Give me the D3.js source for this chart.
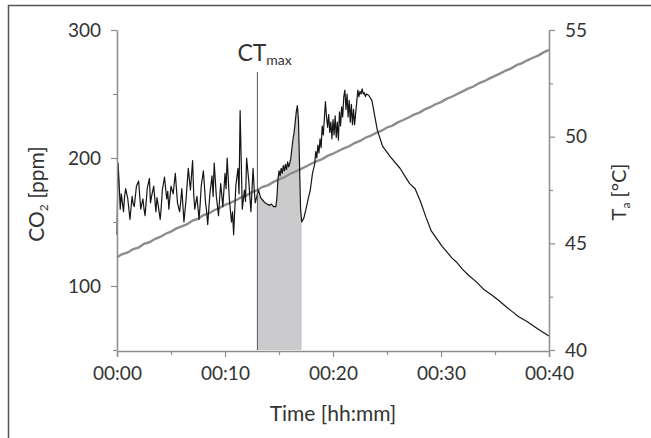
<!DOCTYPE html>
<html>
<head>
<meta charset="utf-8">
<script src="https://cdn.jsdelivr.net/npm/d3@7"></script>
<style>
  html, body { margin: 0; padding: 0; background: #fff; }
  svg { display: block; font-family: Lato, "DejaVu Sans", sans-serif; }
</style>
</head>
<body>
<svg id="chart" width="651" height="438"></svg>
<script>
// ---- Data (time in minutes) ----
const co2Time = [
  0.0,0.1,0.2,0.3,0.4,0.6,0.7,0.8,1.0,1.1,1.2,1.4,1.5,1.6,1.8,2.0,2.1,2.2,2.4,2.5,2.6,2.8,3.0,3.1,3.2,3.4,3.6,3.7,3.8,
  4.0,4.1,4.2,4.4,4.6,4.7,4.8,5.0,5.2,5.3,5.4,5.6,5.8,5.9,6.0,6.2,6.4,6.5,6.6,6.8,7.0,7.1,7.2,7.4,7.6,7.7,7.8,
  8.0,8.2,8.3,8.4,8.6,8.8,8.9,9.0,9.2,9.4,9.5,9.6,9.8,10.0,10.1,10.2,10.4,10.6,10.7,10.8,11.0,11.2,11.3,11.4,11.6,11.8,11.9,
  12.0,12.2,12.3,12.4,12.6,12.7,12.8,13.0,
  13.1,13.2,13.3,13.5,13.7,13.9,14.1,14.3,14.5,14.7,14.8,14.9,15.0,15.1,15.2,15.3,15.4,15.5,15.6,15.7,
  15.8,15.9,16.0,16.1,16.2,16.3,16.4,16.5,16.6,16.7,16.8,16.9,17.0,17.1,
  17.3,17.5,17.7,17.9,18.1,18.3,18.4,18.5,18.6,18.7,18.8,18.9,19.0,19.1,19.3,19.4,19.5,19.6,19.7,19.8,
  19.9,20.0,20.1,20.2,20.3,20.4,20.5,20.6,20.7,20.8,20.9,21.0,21.1,21.2,21.3,21.4,21.5,21.6,21.7,21.8,
  21.9,22.0,22.1,22.2,22.3,22.4,22.5,22.6,22.7,22.8,22.9,23.0,23.1,23.3,
  23.6,24.1,24.6,25.3,26.2,27.1,27.6,28.1,28.6,29.1,29.6,30.1,30.6,31.0,31.4,32.0,32.6,33.3,34.0,34.7,
  35.3,36.0,36.6,37.2,38.0,38.7,39.4,40.0
];
const co2Values = [
  140,196,180,160,172,158,170,176,168,160,152,170,164,162,178,182,171,160,168,160,155,176,184,165,170,178,158,169,164,
  152,162,175,185,168,174,160,178,172,180,188,165,158,166,176,150,168,180,192,175,198,172,160,170,152,164,178,
  190,165,158,148,172,186,170,196,170,155,168,180,162,188,176,200,168,150,158,140,178,192,172,237,160,175,166,
  200,182,170,158,192,176,165,172,
  175,172,169,167,165,164,163,164,162,162,168,183,190,186,192,188,194,190,195,191,
  197,193,196,200,208,215,220,228,236,241,230,195,160,150,
  153,160,168,175,188,195,205,200,210,204,215,208,225,218,244,232,224,234,220,228,
  215,230,218,233,216,228,214,236,225,240,232,248,253,238,250,232,245,228,242,226,
  238,226,235,244,253,248,252,250,254,250,251,248,250,249,
  245,222,209,201,192,180,176,166,154,143,137,131,126,122,119,113,108,103,97,93,
  89,84,80,76,72,68,64,61
];
const tempTime = d3.range(0, 81).map(i => i * 0.5); // sampled every half minute
const tempValues = [
  44.35,44.50,44.57,44.73,44.80,44.98,45.05,45.20,45.30,45.45,
  45.55,45.70,45.80,45.90,46.07,46.15,46.32,46.40,46.55,46.66,
  46.80,46.90,47.02,47.15,47.25,47.40,47.50,47.65,47.73,47.88,
  48.00,48.10,48.25,48.36,48.48,48.60,48.73,48.85,48.95,49.10,
  49.20,49.33,49.45,49.55,49.70,49.80,49.95,50.05,50.18,50.28,
  50.43,50.52,50.67,50.78,50.90,51.03,51.13,51.28,51.38,51.52,
  51.62,51.77,51.87,52.00,52.12,52.25,52.35,52.50,52.60,52.73,
  52.85,52.97,53.10,53.20,53.35,53.45,53.58,53.70,53.80,53.95,
  54.07
];
const ctMaxTime = 13.0;
const shadeEnd = 17.1;
const xTicksMajor = [0, 10, 20, 30, 40];
const xTicksMinor = [5, 15, 25, 35];
const xTickLabels = ["00:00", "00:10", "00:20", "00:30", "00:40"];
const yLeftMajor = [100, 200, 300];
const yLeftMinor = [50, 150, 250];
const yRightMajor = [40, 45, 50, 55];
const yRightMinor = [42.5, 47.5, 52.5];

// ---- Scales ----
const svg = d3.select("#chart");
const x = d3.scaleLinear().domain([0, 40]).range([117, 549]);
const yL = d3.scaleLinear().domain([50, 300]).range([350, 30]);
const yR = d3.scaleLinear().domain([40, 55]).range([350, 30]);

const axisColor = "#8c8c8c";
const textColor = "#333";

// frame (left and top edges)
svg.append("path").attr("d", "M8.5,438 V5.5 H651")
  .attr("fill", "none").attr("stroke", "#555").attr("stroke-width", 1.5);

// shaded area under CO2 between CTmax and end
const co2Data = co2Time.map((t, i) => ({ t, v: co2Values[i] }));
const shadeData = co2Data.filter(d => d.t >= ctMaxTime && d.t <= shadeEnd);
svg.append("path")
  .datum(shadeData)
  .attr("fill", "#cbcbce")
  .attr("d", d3.area().x(d => x(d.t)).y0(yL(50)).y1(d => yL(d.v)));

// temperature line
const tempData = tempTime.map((t, i) => ({ t, v: tempValues[i] }));
svg.append("path")
  .datum(tempData)
  .attr("fill", "none")
  .attr("stroke", "#8d8d8d")
  .attr("stroke-width", 2.4)
  .attr("d", d3.line().x(d => x(d.t)).y(d => yR(d.v)));

// CO2 line
svg.append("path")
  .datum(co2Data)
  .attr("fill", "none")
  .attr("stroke", "#151515")
  .attr("stroke-width", 1.2)
  .attr("stroke-linejoin", "round")
  .attr("d", d3.line().x(d => x(d.t)).y(d => yL(d.v)));

// CTmax vertical line
svg.append("line")
  .attr("x1", x(ctMaxTime)).attr("x2", x(ctMaxTime))
  .attr("y1", 72).attr("y2", yL(50))
  .attr("stroke", "#555").attr("stroke-width", 1);

const ctLabel = svg.append("text")
  .attr("x", x(ctMaxTime) - 20).attr("y", 61)
  .attr("fill", textColor).attr("font-size", 23);
ctLabel.append("tspan").text("CT");
ctLabel.append("tspan").attr("font-size", 14).attr("dy", 4).text("max");

// ---- Axes ----
function styleAxis(g) {
  g.select(".domain").attr("stroke", axisColor).attr("stroke-width", 1.5);
  g.selectAll(".tick line").attr("stroke", axisColor).attr("stroke-width", 1.2);
  g.selectAll(".tick text").attr("fill", textColor).attr("font-size", 19)
    .attr("font-family", "Lato, 'DejaVu Sans', sans-serif");
}

// bottom axis
const gx = svg.append("g").attr("transform", `translate(0,${yL(50) + 1})`)
  .call(d3.axisBottom(x).tickValues(xTicksMajor).tickSize(6).tickPadding(10)
    .tickFormat((d, i) => xTickLabels[i]));
styleAxis(gx);
svg.append("g").attr("transform", `translate(0,${yL(50) + 1})`)
  .call(d3.axisBottom(x).tickValues(xTicksMinor).tickSize(4).tickFormat(""))
  .call(g => { g.select(".domain").remove(); g.selectAll(".tick line").attr("stroke", axisColor).attr("stroke-width", 1.2); });

// left axis
const gl = svg.append("g").attr("transform", `translate(${x(0)},0)`)
  .call(d3.axisLeft(yL).tickValues(yLeftMajor).tickSize(6).tickPadding(10).tickSizeOuter(0));
styleAxis(gl);
svg.append("g").attr("transform", `translate(${x(0)},0)`)
  .call(d3.axisLeft(yL).tickValues(yLeftMinor).tickSize(4).tickFormat(""))
  .call(g => { g.select(".domain").remove(); g.selectAll(".tick line").attr("stroke", axisColor).attr("stroke-width", 1.2); });

// right axis
const gr = svg.append("g").attr("transform", `translate(${x(40)},0)`)
  .call(d3.axisRight(yR).tickValues(yRightMajor).tickSize(6).tickPadding(10).tickSizeOuter(0));
styleAxis(gr);
svg.append("g").attr("transform", `translate(${x(40)},0)`)
  .call(d3.axisRight(yR).tickValues(yRightMinor).tickSize(4).tickFormat(""))
  .call(g => { g.select(".domain").remove(); g.selectAll(".tick line").attr("stroke", axisColor).attr("stroke-width", 1.2); });

// axis titles
svg.append("text")
  .attr("x", x(20)).attr("y", 421)
  .attr("text-anchor", "middle").attr("fill", textColor).attr("font-size", 21)
  .text("Time [hh:mm]");

const yTitleL = svg.append("text")
  .attr("transform", `translate(44,194) rotate(-90)`)
  .attr("text-anchor", "middle").attr("fill", textColor).attr("font-size", 21);
yTitleL.append("tspan").text("CO");
yTitleL.append("tspan").attr("font-size", 12).attr("dy", 4).text("2");
yTitleL.append("tspan").attr("dy", -4).text(" [ppm]");

const yTitleR = svg.append("text")
  .attr("transform", `translate(626,192) rotate(-90)`)
  .attr("text-anchor", "middle").attr("fill", textColor).attr("font-size", 20);
yTitleR.append("tspan").text("T");
yTitleR.append("tspan").attr("font-size", 12).attr("dy", 4).text("a");
yTitleR.append("tspan").attr("dy", -4).text(" [°C]");
</script>
</body>
</html>
